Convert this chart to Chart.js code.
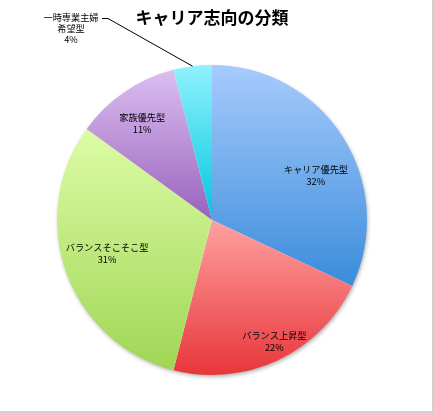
<!DOCTYPE html>
<html>
<head>
<meta charset="utf-8">
<script src="https://cdn.jsdelivr.net/npm/chart.js@4/dist/chart.umd.min.js"></script>
<style>
  html, body { margin: 0; padding: 0; background: #fff; }
  #wrap { width: 434px; height: 413px; position: relative; }
</style>
</head>
<body>
<div id="wrap"><canvas id="pieChart"></canvas></div>
<script>
const categories = ["キャリア優先型", "バランス上昇型", "バランスそこそこ型", "家族優先型", "一時専業主婦希望型"];
const shares = [32, 22, 31, 11, 4];
const percentLabels = ["32%", "22%", "31%", "11%", "4%"];

// top colour / bottom colour of each slice
const topColors = ["#a7cbfc", "#ffa1a1", "#dcfca6", "#dcbef0", "#90f2fd"];
const bottomColors = ["#3a8cdb", "#e8363a", "#a0d655", "#9862bd", "#00c6df"];

const FONT = "'Noto Sans CJK JP', 'Noto Sans', sans-serif";

// vertical extent of a slice, so each gradient runs over its own slice
function sliceExtent(chart, index) {
  const area = chart.chartArea;
  const cx = (area.left + area.right) / 2;
  const cy = (area.top + area.bottom) / 2;
  const r = Math.min(area.width, area.height) / 2;
  const total = shares.reduce((a, b) => a + b, 0);
  let before = 0;
  for (let i = 0; i < index; i++) before += shares[i];
  const a0 = (before / total) * Math.PI * 2 - Math.PI / 2;
  const a1 = ((before + shares[index]) / total) * Math.PI * 2 - Math.PI / 2;
  const ys = [cy, cy + Math.sin(a0) * r, cy + Math.sin(a1) * r];
  if (a0 <= -Math.PI / 2 + 1e-6) ys.push(cy - r);
  if (a0 <= Math.PI / 2 && a1 >= Math.PI / 2) ys.push(cy + r);
  if (a0 <= 1.5 * Math.PI && a1 >= 1.5 * Math.PI) ys.push(cy - r);
  return [Math.min(...ys), Math.max(...ys)];
}

function sliceFill(context) {
  const chart = context.chart;
  const i = context.dataIndex;
  if (!chart.chartArea) return topColors[i];
  const [y0, y1] = sliceExtent(chart, i);
  const g = chart.ctx.createLinearGradient(0, y0, 0, y1);
  g.addColorStop(0, topColors[i]);
  g.addColorStop(1, bottomColors[i]);
  return g;
}

// soft shadow under the pie
const pieShadow = {
  id: "pieShadow",
  beforeDatasetsDraw(chart) {
    const arc = chart.getDatasetMeta(0).data[0];
    if (!arc) return;
    const { x, y, outerRadius } = arc.getProps(["x", "y", "outerRadius"], true);
    const ctx = chart.ctx;
    ctx.save();
    ctx.shadowColor = "rgba(0,0,0,0.35)";
    ctx.shadowBlur = 4;
    ctx.shadowOffsetX = 1;
    ctx.shadowOffsetY = 2;
    ctx.fillStyle = "#fff";
    ctx.beginPath();
    ctx.arc(x, y, outerRadius - 0.5, 0, Math.PI * 2);
    ctx.fill();
    ctx.restore();
  },
};

// slice labels; [angle shift in degrees, radius fraction]
const labelPlacement = [[9, 0.73], [-2, 0.88], [2.3, 0.71], [-1.6, 0.77]];

const sliceLabels = {
  id: "sliceLabels",
  afterDatasetsDraw(chart) {
    const ctx = chart.ctx;
    const arcs = chart.getDatasetMeta(0).data;
    ctx.save();
    ctx.fillStyle = "#000";
    ctx.textAlign = "center";
    ctx.textBaseline = "middle";
    ctx.font = "9.2px " + FONT;
    arcs.forEach((arc, i) => {
      const p = arc.getProps(["x", "y", "startAngle", "endAngle", "outerRadius"], true);
      const mid = (p.startAngle + p.endAngle) / 2;
      if (i < labelPlacement.length) {
        const a = mid + (labelPlacement[i][0] * Math.PI) / 180;
        const rr = p.outerRadius * labelPlacement[i][1];
        const lx = p.x + Math.cos(a) * rr;
        const ly = p.y + Math.sin(a) * rr;
        ctx.fillText(categories[i], lx, ly - 6);
        ctx.fillText(percentLabels[i], lx, ly + 6);
      } else {
        // small slice: callout with leader line
        const ex = p.x + Math.cos(mid) * p.outerRadius;
        const ey = p.y + Math.sin(mid) * p.outerRadius;
        ctx.strokeStyle = "#000";
        ctx.lineWidth = 1;
        ctx.beginPath();
        ctx.moveTo(ex, ey);
        ctx.lineTo(108, 18.5);
        ctx.lineTo(102, 18.5);
        ctx.stroke();
        ctx.fillText(categories[i].slice(0, 6), 71, 17.5);
        ctx.fillText(categories[i].slice(6), 71, 28.5);
        ctx.fillText(percentLabels[i], 71, 39.5);
      }
    });
    ctx.restore();
  },
};

// grey edge of the spreadsheet cell area
const sheetEdge = {
  id: "sheetEdge",
  afterDraw(chart) {
    const ctx = chart.ctx;
    ctx.save();
    ctx.fillStyle = "#d0d0d0";
    ctx.fillRect(432, 0, 2, 413);
    ctx.fillRect(0, 411, 434, 2);
    ctx.restore();
  },
};

new Chart(document.getElementById("pieChart"), {
  type: "pie",
  data: {
    labels: categories,
    datasets: [
      {
        data: shares,
        backgroundColor: sliceFill,
        borderWidth: 0,
      },
    ],
  },
  options: {
    responsive: true,
    maintainAspectRatio: false,
    animation: false,
    layout: { padding: { left: 57, right: 67, top: 0, bottom: 38 } },
    plugins: {
      legend: { display: false },
      tooltip: { enabled: false },
      title: {
        display: true,
        text: "キャリア志向の分類",
        color: "#000",
        font: { family: FONT, size: 17, weight: "bold", lineHeight: 1.2 },
        padding: { top: 7, bottom: 37.6 },
      },
    },
  },
  plugins: [pieShadow, sliceLabels, sheetEdge],
});
</script>
</body>
</html>
